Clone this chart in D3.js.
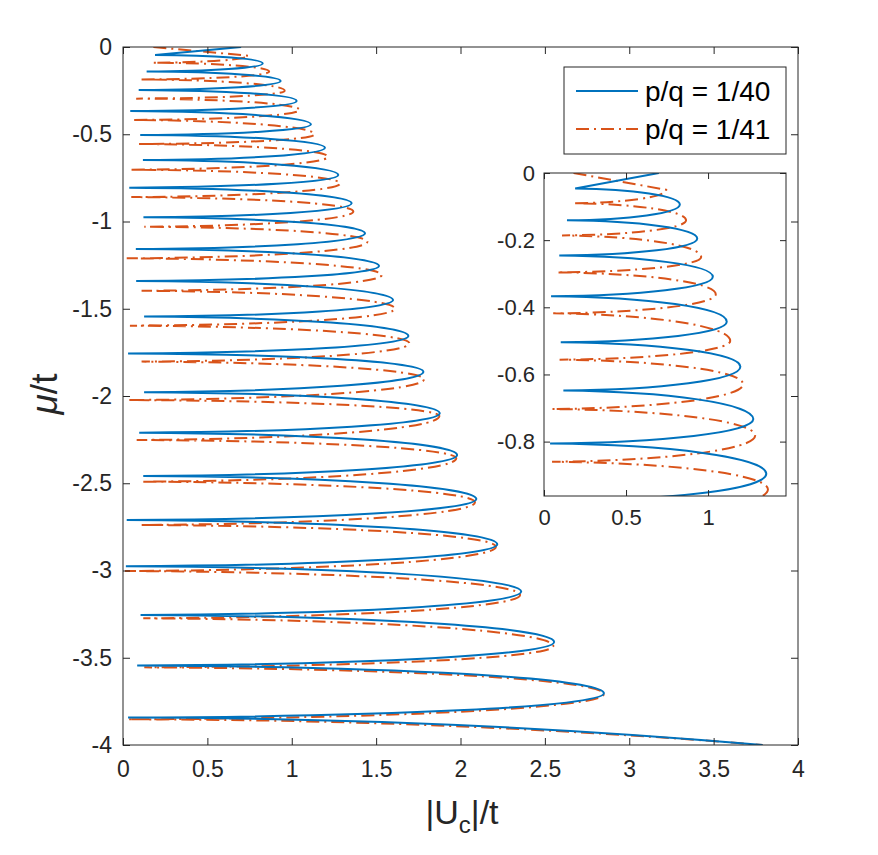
<!DOCTYPE html>
<html>
<head>
<meta charset="utf-8">
<script src="https://cdn.jsdelivr.net/npm/d3@7"></script>
<style>
  body { margin: 0; background: #fff; }
  svg { display: block; font-family: "Liberation Sans", Arial, sans-serif; }
</style>
</head>
<body>
<svg id="chart" width="878" height="855"></svg>
<script>
// ---- Data: turning points of the critical curves (|U_c|/t, mu/t) ----
// p/q = 1/40 (blue, solid)
const blueU = [0.70, 0.19, 0.828, 0.14, 0.934, 0.093, 1.029, 0.043, 1.114, 0.102, 1.197, 0.118, 1.276, 0.037,
  1.355, 0.121, 1.434, 0.076, 1.517, 0.078, 1.600, 0.125, 1.691, 0.030, 1.780, 0.125, 1.877, 0.096,
  1.980, 0.120, 2.094, 0.022, 2.218, 0.017, 2.360, 0.104, 2.555, 0.084, 2.850, 0.030, 3.79];
const blueMu = [0, -0.046, -0.094, -0.141, -0.195, -0.246, -0.309, -0.367, -0.443, -0.504, -0.577, -0.648, -0.733, -0.806,
  -0.896, -0.976, -1.068, -1.158, -1.255, -1.341, -1.450, -1.545, -1.656, -1.756, -1.861, -1.978, -2.099,
  -2.210, -2.338, -2.458, -2.590, -2.711, -2.850, -2.976, -3.121, -3.255, -3.410, -3.544, -3.704, -3.843, -4.0];
// p/q = 1/41 (orange, dash-dot)
const orangeU = [0.18, 0.745, 0.178, 0.866, 0.11, 0.958, 0.078, 1.047, 0.056, 1.135, 0.095, 1.214, 0.049,
  1.287, 0.049, 1.365, 0.126, 1.448, 0.022, 1.533, 0.110, 1.612, 0.041, 1.697, 0.110, 1.784, 0.028,
  1.875, 0.081, 1.975, 0.114, 2.086, 0.100, 2.210, 0.012, 2.353, 0.120, 2.550, 0.126, 2.850, 0.028, 3.79];
const orangeMu = [0, -0.050, -0.090, -0.141, -0.186, -0.250, -0.296, -0.361, -0.418, -0.500, -0.556, -0.629, -0.703,
  -0.782, -0.860, -0.942, -1.030, -1.116, -1.211, -1.307, -1.397, -1.500, -1.597, -1.698, -1.803, -1.904, -2.023,
  -2.115, -2.252, -2.357, -2.491, -2.609, -2.739, -2.864, -3.003, -3.140, -3.274, -3.433, -3.555, -3.708, -3.853, -4.0];

const xTicks = [0, 0.5, 1, 1.5, 2, 2.5, 3, 3.5, 4];
const yTicks = [0, -0.5, -1, -1.5, -2, -2.5, -3, -3.5, -4];
const insetXTicks = [0, 0.5, 1];
const insetYTicks = [0, -0.2, -0.4, -0.6, -0.8];
const seriesNames = ["p/q = 1/40", "p/q = 1/41"];

// ---- Styles ----
const BLUE = "#0072BD", ORANGE = "#D95319", AX = "#262626";
const DASHDOT = "13,5,2,5";

const svg = d3.select("#chart");
const x = d3.scaleLinear().domain([0, 4]).range([123, 798]);
const y = d3.scaleLinear().domain([-4, 0]).range([745, 47]);
const xi = d3.scaleLinear().domain([0, 1.475]).range([544, 786]);
const yi = d3.scaleLinear().domain([-0.962, 0]).range([496, 173]);

// Path through turning points: quarter-ellipse-like arcs between left cusps and right noses
function lobePath(us, mus, sx, sy) {
  const p = d3.path();
  const X = us.map(sx), Y = mus.map(sy);
  const n = X.length;
  const k = 0.55, s = 0.04;
  p.moveTo(X[0], Y[0]);
  for (let i = 0; i < n - 1; i++) {
    const x0 = X[i], y0 = Y[i], x1 = X[i + 1], y1 = Y[i + 1];
    if (i === 0) { p.lineTo(x1, y1); continue; }
    if (i === n - 2) { p.quadraticCurveTo(x0 + 0.5 * (x1 - x0), y0, x1, y1); continue; }
    if (x1 > x0) { // left cusp -> right nose
      p.bezierCurveTo(x0 + k * (x1 - x0), y0 + s * (y1 - y0), x1, y1 - k * (y1 - y0), x1, y1);
    } else {       // right nose -> left cusp
      p.bezierCurveTo(x0, y0 + k * (y1 - y0), x1 + k * (x0 - x1), y1 + s * (y0 - y1), x1, y1);
    }
  }
  return p.toString();
}

// clip paths
const defs = svg.append("defs");
defs.append("clipPath").attr("id", "clipMain").append("rect")
  .attr("x", 123).attr("y", 47).attr("width", 675).attr("height", 698);
defs.append("clipPath").attr("id", "clipInset").append("rect")
  .attr("x", 544).attr("y", 173).attr("width", 242).attr("height", 323);

// main curves
const gMain = svg.append("g").attr("clip-path", "url(#clipMain)");
gMain.append("path").attr("d", lobePath(orangeU, orangeMu, x, y))
  .attr("fill", "none").attr("stroke", ORANGE).attr("stroke-width", 2).attr("stroke-dasharray", DASHDOT);
gMain.append("path").attr("d", lobePath(blueU, blueMu, x, y))
  .attr("fill", "none").attr("stroke", BLUE).attr("stroke-width", 2);

// axes with inward ticks on all four sides
function drawAxes(sx, sy, xt, yt, fs, tick, labels) {
  const [x0, x1] = sx.range(), [y0, y1] = sy.range(); // y0 bottom, y1 top
  const g = svg.append("g");
  g.append("rect").attr("x", x0).attr("y", y1).attr("width", x1 - x0).attr("height", y0 - y1)
    .attr("fill", "none").attr("stroke", AX).attr("stroke-width", 1);
  const fmt = d => String(d);
  const axB = d3.axisBottom(sx).tickValues(xt).tickSize(-tick).tickPadding(labels.xpad).tickFormat(fmt);
  const axT = d3.axisTop(sx).tickValues(xt).tickSize(-tick).tickFormat("");
  const axL = d3.axisLeft(sy).tickValues(yt).tickSize(-tick).tickPadding(labels.ypad).tickFormat(fmt);
  const axR = d3.axisRight(sy).tickValues(yt).tickSize(-tick).tickFormat("");
  [[axB, `translate(0,${y0})`], [axT, `translate(0,${y1})`], [axL, `translate(${x0},0)`], [axR, `translate(${x1},0)`]]
    .forEach(([ax, tr]) => {
      const a = g.append("g").attr("transform", tr).call(ax);
      a.select(".domain").remove();
      a.selectAll("line").attr("stroke", AX);
      a.selectAll("text").attr("fill", AX).style("font-size", fs + "px")
        .style("font-family", '"Liberation Sans", Arial, sans-serif');
    });
  return g;
}

drawAxes(x, y, xTicks, yTicks, 23, 7, { xpad: 16, ypad: 11 });

// axis titles
const xl = svg.append("text").attr("x", 462).attr("y", 824).attr("text-anchor", "middle")
  .attr("fill", AX).style("font-size", "34px");
xl.append("tspan").text("|U");
xl.append("tspan").attr("dy", 9).style("font-size", "24px").text("c");
xl.append("tspan").attr("dy", -9).text("|/t");

svg.append("text").attr("transform", "translate(57,394) rotate(-90)").attr("text-anchor", "middle")
  .attr("fill", AX).style("font-size", "37px")
  .html('<tspan font-style="italic">μ</tspan>/t');

// legend
const lg = svg.append("g");
lg.append("rect").attr("x", 564).attr("y", 67).attr("width", 222).attr("height", 87)
  .attr("fill", "#fff").attr("stroke", AX).attr("stroke-width", 1);
[[BLUE, null, 91], [ORANGE, DASHDOT, 129]].forEach(([c, dash, yy], i) => {
  lg.append("line").attr("x1", 576).attr("x2", 638).attr("y1", yy).attr("y2", yy)
    .attr("stroke", c).attr("stroke-width", 2).attr("stroke-dasharray", dash);
  lg.append("text").attr("x", 645).attr("y", yy).attr("dy", "0.36em").attr("fill", "#000")
    .style("font-size", "28px").text(seriesNames[i]);
});

// inset
svg.append("rect").attr("x", 544).attr("y", 173).attr("width", 242).attr("height", 323).attr("fill", "#fff");
const gIn = svg.append("g").attr("clip-path", "url(#clipInset)");
gIn.append("path").attr("d", lobePath(orangeU, orangeMu, xi, yi))
  .attr("fill", "none").attr("stroke", ORANGE).attr("stroke-width", 2).attr("stroke-dasharray", DASHDOT);
gIn.append("path").attr("d", lobePath(blueU, blueMu, xi, yi))
  .attr("fill", "none").attr("stroke", BLUE).attr("stroke-width", 2);
drawAxes(xi, yi, insetXTicks, insetYTicks, 22, 6, { xpad: 13, ypad: 9 });
</script>
</body>
</html>
